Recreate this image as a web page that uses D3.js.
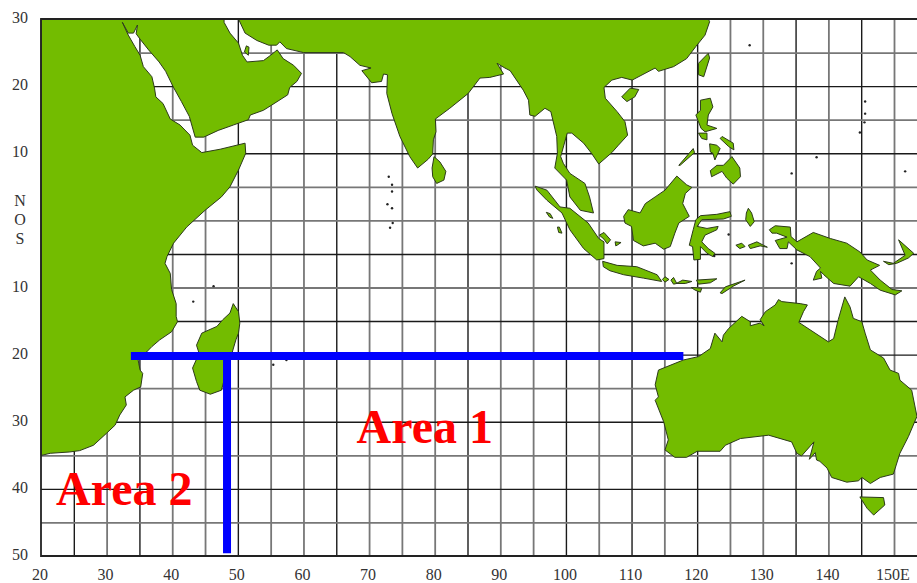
<!DOCTYPE html>
<html>
<head>
<meta charset="utf-8">
<script src="https://cdn.jsdelivr.net/npm/d3@7"></script>
<style>
  html, body { margin: 0; padding: 0; background: #fff; overflow: hidden; }
  svg { display: block; }
  .tick-label { font-family: "Liberation Serif", serif; font-size: 16px; fill: #333; }
  .area-label { font-family: "Liberation Serif", serif; font-size: 48px; font-weight: bold; fill: #ff0000; }
</style>
</head>
<body>
<div id="map"></div>
<script>
// tick labels and grid, all in degrees
var lonLabels = [20, 30, 40, 50, 60, 70, 80, 90, 100, 110, 120, 130, 140, 150];
var latLabels = [30, 20, 10, -10, -20, -30, -40, -50];
var equatorLabels = ["N", "O", "S"];
var gridLons = d3.range(25, 155, 5);
var gridLats = d3.range(25, -50, -5);
var darkLons = [25, 35, 50, 65, 85, 100, 110, 120, 135, 145];
var darkLats = [20, 10, -5, -15, -20, -30, -40];

// land outlines as [lon, lat]
var africaArabia = [[20,30],[47.9,30],[47.9,29.5],[48.8,27.9],[50.1,26.4],[50.7,24.6],[51.4,23.6],[53.9,23.8],[55,24.6],[56,25.4],[56.9,24.1],[58.5,23.1],[59.7,21.9],[59,20.7],[57.9,19.8],[57.6,18.7],[55.2,17.2],[53.9,16.4],[51.9,15.7],[51.6,15],[49.3,14.2],[47,13.4],[44.8,12.4],[43.5,12.4],[42.6,15.5],[41.4,17.7],[40.2,19.8],[39,22.2],[38,23.6],[36.4,25.4],[35.1,27],[34.5,27.8],[34.7,29.1],[34.1,27.9],[33.3,27.9],[32.4,29.5],[33.3,27.6],[34.3,25.9],[35.1,24.6],[35.6,22.9],[36.9,21.4],[37.3,19.7],[37.5,18.4],[38.6,17.4],[39.7,15.1],[41.2,14.2],[42.7,12.7],[43.1,11.2],[44.5,10.1],[47.3,10.6],[51.1,11.5],[51.2,10],[50.1,7.5],[48.8,5],[47.5,3.5],[45,1.5],[42.2,-1],[40.2,-3.4],[39.2,-5.4],[38.9,-6.4],[39.7,-7.9],[39.9,-10.3],[40.6,-12.4],[40.6,-14.3],[40.8,-15.1],[39.9,-16.6],[38.1,-17.8],[36.9,-18.8],[36.1,-19.6],[34.8,-20.8],[35.1,-22.3],[35.5,-22.8],[35.2,-24.8],[34.1,-25.3],[32.8,-26.3],[33,-27.5],[32,-29],[31.3,-30.5],[30,-31.7],[28,-33.5],[25.9,-34.3],[24.4,-34.5],[21.4,-34.7],[20.1,-35],[20,-35]];
var qatar = [[51,25.1],[51.3,26],[51.7,25.8],[51.6,24.6]];
var madagascar = [[49.3,-12.4],[50.1,-13.6],[50.3,-15.3],[50.1,-16.8],[49.7,-17.8],[49.1,-19.8],[48.3,-22.3],[47.5,-25.3],[45.8,-25.9],[44.2,-25.3],[43.7,-24],[43.1,-22],[44.1,-19.8],[43.7,-18.6],[44.5,-16.8],[46.8,-15.8],[47.7,-14.8],[48.8,-13.8]];
var asia = [[50.1,30],[51.1,27.9],[52.9,26.8],[54.7,26.1],[55.9,26.1],[56.4,26.6],[57.4,25.6],[60,25],[66.1,25],[67.1,24.4],[68.6,23.1],[70.3,22.7],[68.9,22.3],[70.4,20.5],[71.9,20.7],[72.2,21.8],[72.8,21.7],[72.7,18.9],[73.5,15.9],[74.7,12.5],[76.2,9.5],[77.4,7.8],[79,9.1],[79.7,9.9],[79.8,12],[80.2,13.2],[80.1,15.1],[82.3,16.7],[85.1,18.9],[86.9,21.2],[88.4,21.3],[90.5,21.8],[89.5,23.4],[90.7,22.7],[91.5,22.3],[93.5,19.4],[94.3,17.9],[94.5,15.7],[95.3,15.5],[96.8,16.7],[97.7,16.2],[98.6,12.5],[98.7,10],[98.3,7.8],[100.1,6],[100.6,3.5],[102.2,1.5],[104.2,1.1],[103.6,3.5],[102.9,5.5],[100.6,7],[99.6,8.5],[99.2,9.5],[100.2,13],[100.9,13],[102.7,11.5],[103.9,10],[105,8.4],[107,10.1],[108,11.2],[109.4,12.7],[109,14.7],[107.8,16.2],[106,18.2],[105.8,19.8],[107,20.9],[108.5,21.3],[110.1,20.9],[113.6,22.7],[114.1,22.2],[116.4,22.9],[118.4,24.1],[119.8,25.9],[121.2,27.6],[121.9,29.6],[121.7,30]];
var hainan = [[108.5,18.4],[109.8,19.7],[111.1,19.5],[110.5,18.4],[109.3,17.7]];
var taiwan = [[120.2,21.7],[120.2,23.4],[121.7,24.9],[121.9,24.2],[121,21.4]];
var sriLanka = [[79.9,9.5],[80.8,8.7],[81.7,7.3],[81.4,6],[80.3,5.5],[79.7,6.5],[79.6,7.8]];
var sumatra = [[95.3,5.1],[97.1,4.5],[99.1,2],[100.6,1.8],[103.4,-0.4],[105,-2.7],[105.8,-3.2],[105.8,-5.7],[104.7,-5.9],[102.7,-4.2],[100.6,-1.4],[99.4,1.1],[97.1,3],[95.6,4.5]];
var java = [[105.6,-6.1],[107.8,-6.7],[110.8,-6.9],[113.9,-8.1],[114.6,-9.1],[111.8,-8.6],[108.8,-8.1],[106.7,-7.5],[105.7,-6.9]];
var bali = [[114.7,-8.8],[115.1,-8.4],[115.7,-8.8],[115.1,-9.2]];
var lombok = [[116,-8.9],[116.4,-8.5],[116.9,-9.4],[116.4,-9.5]];
var sumbawa = [[116.8,-9.4],[117.8,-8.9],[119.2,-9.1],[118.2,-9.4]];
var flores = [[119.9,-8.9],[123,-8.7],[122,-9.3],[120.2,-9.5]];
var sumba = [[119.1,-10],[120.7,-10.1],[120.5,-10.7],[119.7,-10.4]];
var timor = [[123.5,-10.8],[124.3,-9.9],[127.3,-8.9],[125.5,-9.8],[123.8,-10.9]];
var borneo = [[108.8,0.6],[109.5,1.6],[111.3,1.1],[112.1,2.5],[113.6,3.5],[115.1,4.5],[116.9,6.6],[118.4,5.3],[119.2,4.9],[118.2,4],[117.8,2.5],[118.8,0.6],[117.2,-0.4],[116.6,-1.9],[115.9,-3.9],[114.9,-4.3],[113.6,-3.4],[111.8,-3.8],[110.3,-3],[110,-0.9],[109,-0.4]];
var sulawesi = [[119.8,0.1],[120.5,0.7],[123,0.9],[125,1.3],[125.2,0.6],[124,0.2],[120.7,0.1],[120,-0.9],[121.5,-1.2],[123.2,-0.9],[123,-1.4],[121.2,-2.2],[120.7,-3.2],[121.7,-4.2],[122.7,-4.9],[122.4,-5.4],[121.5,-4.9],[120.5,-3.9],[120.5,-5.8],[119.5,-5.9],[119.3,-3.9],[118.8,-3.7],[119.4,-1.4]];
var halmahera = [[127.8,1.8],[128.3,1.1],[128.7,-0.2],[128.1,-0.9],[127.4,0.1],[127.5,1.1]];
var seram = [[127.8,-3.7],[129.1,-3.2],[130.7,-4],[129.6,-3.8],[128.1,-4.2]];
var buru = [[125.9,-3.7],[126.8,-3.4],[127.3,-3.9],[126.5,-4.2]];
var newGuinea = [[131,-1.4],[131.9,-0.8],[134.2,-1],[134.3,-2.4],[135.2,-3.2],[137.7,-1.8],[140.3,-2.7],[142.8,-3.4],[144.8,-4.7],[145.9,-5.9],[147.8,-6.7],[146.4,-7.4],[147.9,-8.9],[149.7,-10.3],[151.2,-10.5],[150.2,-11.1],[147.9,-10.4],[146.4,-9.4],[144.6,-8.4],[143.3,-9.8],[140.8,-9.4],[139.3,-8.1],[138.8,-7.6],[139,-8.6],[137.7,-8.9],[138.2,-7.6],[138.8,-7.1],[137.2,-5.4],[135.2,-4.4],[133.9,-3.2],[133.7,-4.2],[132.6,-4.2],[131.9,-3],[133.7,-2.5],[132.1,-1.9],[131.4,-1.9]];
var newBritain = [[148.4,-6.1],[149.9,-6.4],[151.7,-5.2],[150.7,-2.9],[153,-4.9],[152.2,-5.6],[150.4,-6.4],[149.2,-6.6]];
var luzon = [[120.5,17.9],[122,18.2],[122.4,16.9],[121.7,15.7],[121.5,14.2],[123,13.7],[121.2,13.2],[120.6,13.7],[119.8,15.7],[120.5,16.4]];
var mindoro = [[120.2,13],[121.5,13],[121.5,12],[120.7,12.2]];
var samar = [[123.8,12.5],[125.5,11.5],[125.6,10.5],[124.8,11],[123.5,12.2]];
var panay = [[121.9,11.4],[123,11.2],[123.5,10.7],[122.7,9],[122.4,10],[122,10.2]];
var mindanao = [[125.3,9.5],[126.5,7.8],[126.6,6.5],[125.5,5.4],[124.5,6.3],[123.8,7.3],[122.2,6.5],[122,7.4],[123,8.2],[124,8.2]];
var palawan = [[117.2,8.2],[119.4,10.7],[119.6,10.1],[117.4,8.2]];
var mentawai = [[97,1.2],[97.6,1],[98,0.3],[97.5,0.5]];
var siberut = [[98.7,-1],[99,-1],[99.4,-1.9],[98.9,-1.8]];
var bangka = [[105.1,-2.2],[105.8,-1.8],[106.8,-2.9],[106.3,-3.5],[105.8,-2.8]];
var belitung = [[107.5,-3.2],[108.4,-3.3],[107.8,-3.7],[107.6,-3.8]];
var australia = [[113.6,-24.5],[114.1,-22.3],[117.9,-20.8],[120.2,-20.3],[122,-19.1],[122.7,-16.8],[123.8,-18.1],[124,-17.1],[124.8,-16.1],[126.8,-14.3],[128.1,-15.1],[128.1,-15.7],[129.6,-15.3],[130.2,-15.7],[129.6,-14.8],[130.4,-13.6],[131.9,-12.6],[132.4,-11.8],[132.9,-12.1],[135.7,-12.4],[136.8,-12.6],[136.2,-13.6],[135.5,-15.2],[140,-18.1],[140.8,-17.6],[141.5,-14.8],[142.5,-11.4],[143.3,-12.9],[143.8,-14.6],[145.1,-15.1],[145.6,-16.8],[146.4,-19.3],[148.4,-20.5],[149.4,-22.3],[150.7,-22.8],[150.9,-23.8],[152.7,-25.3],[153.5,-29.2],[152.2,-32.2],[150.9,-34.7],[149.9,-37.8],[147.9,-38.3],[146.4,-39.2],[145.1,-38.3],[144.6,-38.8],[142.8,-39],[140.5,-38.3],[139.8,-36.9],[138.7,-35.9],[138.2,-35.7],[138,-34.6],[137.1,-35.6],[137.8,-33],[135.9,-35.1],[135.2,-34.7],[134.4,-33],[130.9,-32],[126.6,-32.5],[124.3,-33.5],[123.5,-34.4],[120,-34.4],[118.4,-35.3],[116.6,-35.3],[115.1,-34.2],[115.6,-32.7],[114.9,-30],[113.6,-26.8],[114.1,-26.3]];
var tasmania = [[144.8,-41.2],[148.4,-41.3],[148.6,-42.4],[146.9,-43.9],[145.9,-42.9]];
var landShapes = [africaArabia, qatar, madagascar, asia, hainan, taiwan, sriLanka, sumatra, java, bali, lombok, sumbawa, flores, sumba, timor, borneo, sulawesi, halmahera, seram, buru, newGuinea, newBritain, luzon, mindoro, samar, panay, mindanao, palawan, mentawai, siberut, bangka, belitung, australia, tasmania];

// specks too small to outline
var islets = [[73,6.5],[73.5,5.3],[73.5,4.3],[72.8,2.4],[73.5,1.8],[73.6,-0.4],[73.2,-1.1],[46.3,-9.8],[43.2,-12.1],[55.4,-21.5],[57.4,-20.8],[128,26.1],[145.6,17.7],[145.6,15.9],[145.5,14.6],[144.8,13.1],[138.2,9.4],[134.4,7],[151.7,7.3],[134.4,-6.4],[124.8,-2.1],[122.6,-5.3]];

// the two blue boundaries
var area1Top = [[33.7,-20.2],[117.9,-20.2]];
var area2Side = [[48.35,-20.2],[48.35,-49.6]];
var areaNames = [{ name: "Area 1", lon: 68.1, lat: -33.2 }, { name: "Area 2", lon: 22.3, lat: -42.4 }];

var svgWidth = 917;
var svgHeight = 583;

var svg = d3.select("#map").append("svg")
  .attr("width", svgWidth)
  .attr("height", svgHeight);

var x = d3.scaleLinear().domain([20, 150]).range([41, 894]);
var y = d3.scaleLinear().domain([30, -50]).range([19, 556]);

// grid comes from the axes, tick lines stretched across the map
var gridX = svg.append("g")
  .attr("transform", "translate(0," + y(-50) + ")")
  .call(d3.axisTop(x).tickValues(gridLons).tickSize(y(-50) - y(30)).tickFormat(""));
gridX.select(".domain").remove();
gridX.selectAll(".tick line")
  .attr("stroke", d => darkLons.includes(d) ? "#1a1a1a" : "#777")
  .attr("stroke-width", d => darkLons.includes(d) ? 1.4 : 1.8);

var gridY = svg.append("g")
  .attr("transform", "translate(" + x(20) + ",0)")
  .call(d3.axisRight(y).tickValues(gridLats).tickSize(svgWidth - x(20)).tickFormat(""));
gridY.select(".domain").remove();
gridY.selectAll(".tick line")
  .attr("stroke", d => darkLats.includes(d) ? "#1a1a1a" : "#777")
  .attr("stroke-width", d => darkLats.includes(d) ? 1.4 : 1.8);

var line = d3.line().x(d => x(d[0])).y(d => y(d[1]));

svg.append("g").selectAll("path")
  .data(landShapes)
  .enter()
  .append("path")
  .attr("d", d => line(d) + "Z")
  .attr("fill", "#73bc00")
  .attr("stroke", "#2c3a1a")
  .attr("stroke-width", 1)
  .attr("stroke-linejoin", "round");

svg.append("g").selectAll("circle")
  .data(islets)
  .enter()
  .append("circle")
  .attr("cx", d => x(d[0]))
  .attr("cy", d => y(d[1]))
  .attr("r", 1.2)
  .attr("fill", "#222");

// frame on the left, top and bottom only
svg.append("path")
  .attr("d", "M" + svgWidth + "," + y(30) + "H" + x(20) + "V" + y(-50) + "H" + svgWidth)
  .attr("fill", "none")
  .attr("stroke", "#222")
  .attr("stroke-width", 1.8);

// tick labels
svg.append("g").selectAll("text")
  .data(lonLabels)
  .enter()
  .append("text")
  .attr("class", "tick-label")
  .attr("x", d => x(d) - 1)
  .attr("y", 580)
  .attr("text-anchor", "middle")
  .text(d => d == 150 ? "150E" : d);

svg.append("g").selectAll("text")
  .data(latLabels)
  .enter()
  .append("text")
  .attr("class", "tick-label")
  .attr("x", 20)
  .attr("y", d => y(d) + 4)
  .attr("text-anchor", "middle")
  .text(d => Math.abs(d));

svg.append("g").selectAll("text")
  .data(equatorLabels)
  .enter()
  .append("text")
  .attr("class", "tick-label")
  .attr("x", 20)
  .attr("y", (d, i) => y(0) + (i - 1) * 19 + 5)
  .attr("text-anchor", "middle")
  .text(d => d);

// area boundaries and names
svg.append("path").attr("d", line(area1Top)).attr("stroke", "#0000ff").attr("stroke-width", 8).attr("fill", "none");
svg.append("path").attr("d", line(area2Side)).attr("stroke", "#0000ff").attr("stroke-width", 8).attr("fill", "none");

svg.append("g").selectAll("text")
  .data(areaNames)
  .enter()
  .append("text")
  .attr("class", "area-label")
  .attr("x", d => x(d.lon))
  .attr("y", d => y(d.lat))
  .text(d => d.name);
</script>
</body>
</html>
